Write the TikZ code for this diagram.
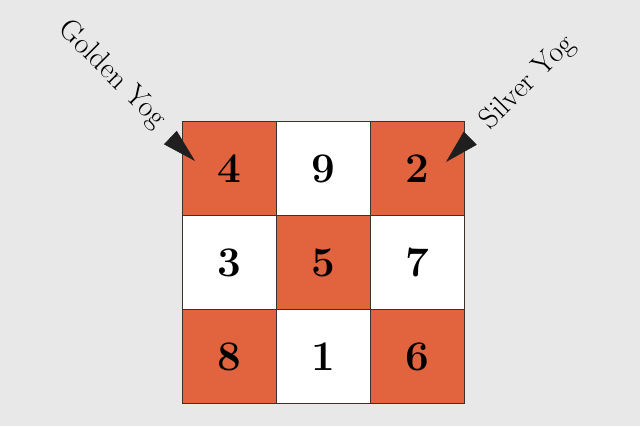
\documentclass[tikz,border=0pt]{standalone}
\usetikzlibrary{arrows.meta}
\definecolor{yogorange}{RGB}{225,100,62}
\definecolor{yogback}{RGB}{232,232,232}
\definecolor{yogline}{RGB}{60,50,45}
\begin{document}
\begin{tikzpicture}[
    cell/.style={draw=yogline,line width=0.6pt,minimum width=2.35cm,minimum height=2.35cm,inner sep=0pt,font=\fontsize{30}{36}\selectfont\bfseries},
    hot/.style={cell,fill=yogorange},
    cold/.style={cell,fill=white},
    yoglabel/.style={font=\fontsize{21}{25}\selectfont},
    pointer/.style={-{Triangle[length=0.85cm,width=0.46cm]},color=black!88,line width=0.4pt}]
    \fill[yogback] (0,0) rectangle (16,10.65);
    \useasboundingbox (0,0) rectangle (16,10.65);
    \node[hot]  (n4) at (5.73,6.43) {4};
    \node[cold] (n9) at (8.08,6.43) {9};
    \node[hot]  (n2) at (10.43,6.43) {2};
    \node[cold] (n3) at (5.73,4.08) {3};
    \node[hot]  (n5) at (8.08,4.08) {5};
    \node[cold] (n7) at (10.43,4.08) {7};
    \node[hot]  (n8) at (5.73,1.73) {8};
    \node[cold] (n1) at (8.08,1.73) {1};
    \node[hot]  (n6) at (10.43,1.73) {6};
    \node[yoglabel,rotate=-45] (golden) at (2.8,8.78) {Golden Yog};
    \node[yoglabel,rotate=45] (silver) at (13.2,8.58) {Silver Yog};
    \coordinate (gstart) at (4.26,7.21);
    \coordinate (gtip) at (4.875,6.625);
    \coordinate (sstart) at (11.75,7.19);
    \coordinate (stip) at (11.15,6.6);
    \draw[pointer] (gstart) -- (gtip);
    \draw[pointer] (sstart) -- (stip);
  \end{tikzpicture}
\end{document}
